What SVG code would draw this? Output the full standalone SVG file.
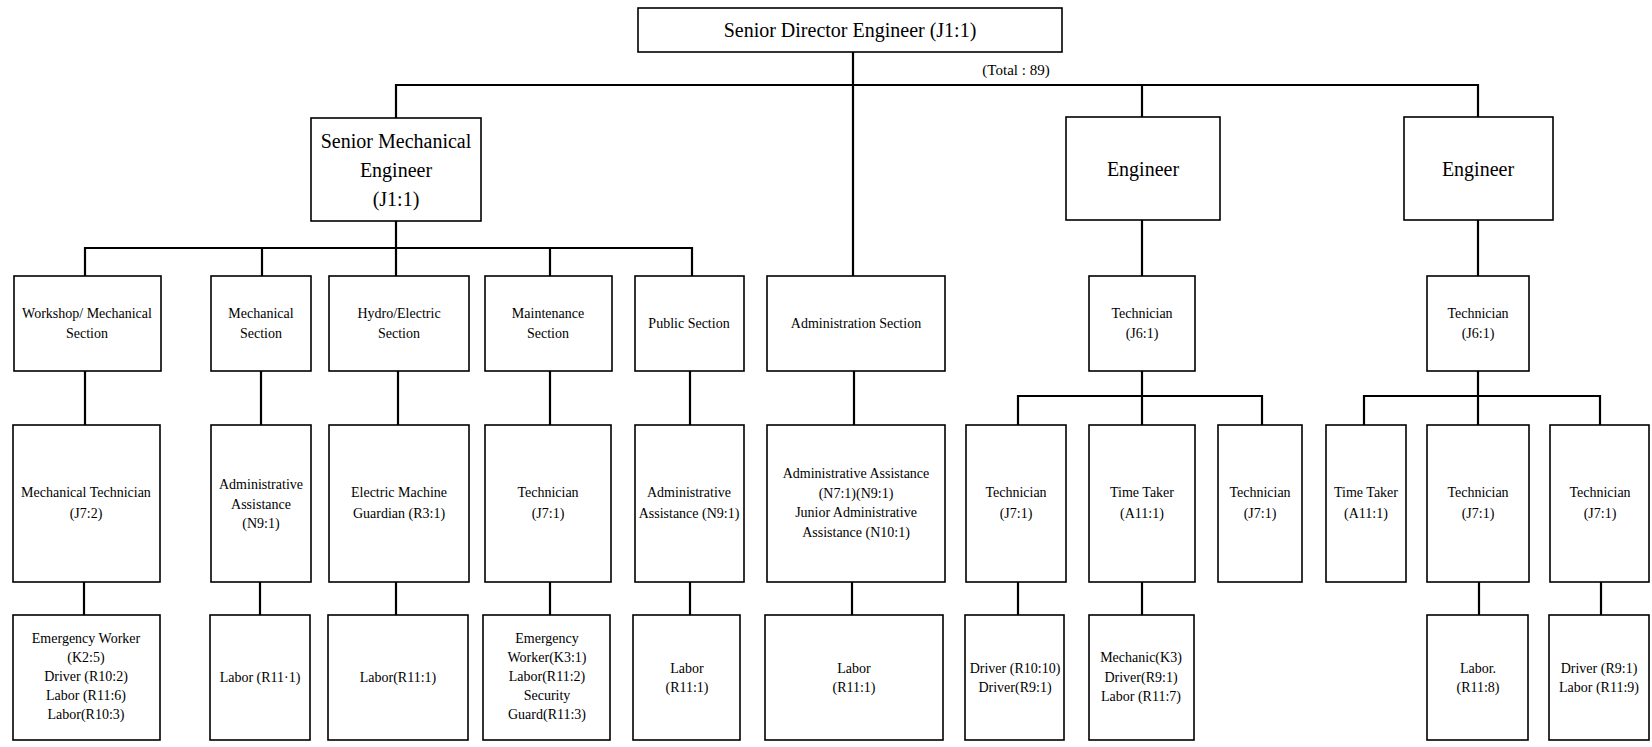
<svg xmlns="http://www.w3.org/2000/svg" width="1652" height="747" viewBox="0 0 1652 747">
<style>
rect{fill:#fff;stroke:#000;stroke-width:1.6}
.c line{stroke:#000;stroke-width:2.2}
text{font-family:"Liberation Serif","Times New Roman",serif;fill:#000;text-anchor:middle;dominant-baseline:central}
.s{font-size:14px}
.t{font-size:15px}
.b{font-size:20px}
</style>
<rect x="0" y="0" width="1652" height="747" style="fill:#fff;stroke:none"/>
<g class="c" id="connectors">
<line x1="853" y1="52" x2="853" y2="276"/>
<line x1="395" y1="85" x2="1479" y2="85"/>
<line x1="396" y1="84" x2="396" y2="118"/>
<line x1="1142" y1="84" x2="1142" y2="117"/>
<line x1="1478" y1="84" x2="1478" y2="117"/>
<line x1="396" y1="221" x2="396" y2="276"/>
<line x1="84" y1="248" x2="693" y2="248"/>
<line x1="85" y1="247" x2="85" y2="276"/>
<line x1="262" y1="247" x2="262" y2="276"/>
<line x1="550" y1="247" x2="550" y2="276"/>
<line x1="692" y1="247" x2="692" y2="276"/>
<line x1="1142" y1="220" x2="1142" y2="276"/>
<line x1="1478" y1="220" x2="1478" y2="276"/>
<line x1="85" y1="371" x2="85" y2="425"/>
<line x1="261" y1="371" x2="261" y2="425"/>
<line x1="398" y1="371" x2="398" y2="425"/>
<line x1="550" y1="371" x2="550" y2="425"/>
<line x1="690" y1="371" x2="690" y2="425"/>
<line x1="854" y1="371" x2="854" y2="425"/>
<line x1="1142" y1="371" x2="1142" y2="425"/>
<line x1="1017" y1="396" x2="1263" y2="396"/>
<line x1="1018" y1="395" x2="1018" y2="425"/>
<line x1="1262" y1="395" x2="1262" y2="425"/>
<line x1="1478" y1="371" x2="1478" y2="425"/>
<line x1="1363" y1="396" x2="1601" y2="396"/>
<line x1="1364" y1="395" x2="1364" y2="425"/>
<line x1="1600" y1="395" x2="1600" y2="425"/>
<line x1="84" y1="582" x2="84" y2="615"/>
<line x1="260" y1="582" x2="260" y2="615"/>
<line x1="396" y1="582" x2="396" y2="615"/>
<line x1="550" y1="582" x2="550" y2="615"/>
<line x1="690" y1="582" x2="690" y2="615"/>
<line x1="852" y1="582" x2="852" y2="615"/>
<line x1="1018" y1="582" x2="1018" y2="615"/>
<line x1="1142" y1="582" x2="1142" y2="615"/>
<line x1="1479" y1="582" x2="1479" y2="615"/>
<line x1="1601" y1="582" x2="1601" y2="615"/>
</g>
<text class="t" x="1016" y="70">(Total : 89)</text>

<g id="n-sde"><rect x="638" y="8" width="424" height="44"/><text class="b" x="850" y="30">Senior Director Engineer (J1:1)</text></g>

<g id="n-sme"><rect x="311" y="118" width="170" height="103"/><text class="b" x="396" y="141">Senior Mechanical</text><text class="b" x="396" y="170">Engineer</text><text class="b" x="396" y="199">(J1:1)</text></g>
<g id="n-eng1"><rect x="1066" y="117" width="154" height="103"/><text class="b" x="1143" y="169">Engineer</text></g>
<g id="n-eng2"><rect x="1404" y="117" width="149" height="103"/><text class="b" x="1478" y="169">Engineer</text></g>

<g id="n-workshop"><rect x="14" y="276" width="147" height="95"/><text class="s" x="87" y="313.5">Workshop/ Mechanical</text><text class="s" x="87" y="333.5">Section</text></g>
<g id="n-mechsec"><rect x="211" y="276" width="100" height="95"/><text class="s" x="261" y="313.5">Mechanical</text><text class="s" x="261" y="333.5">Section</text></g>
<g id="n-hydro"><rect x="329" y="276" width="140" height="95"/><text class="s" x="399" y="313.5">Hydro/Electric</text><text class="s" x="399" y="333.5">Section</text></g>
<g id="n-maint"><rect x="485" y="276" width="127" height="95"/><text class="s" x="548" y="313.5">Maintenance</text><text class="s" x="548" y="333.5">Section</text></g>
<g id="n-public"><rect x="635" y="276" width="109" height="95"/><text class="s" x="689" y="323.5">Public Section</text></g>
<g id="n-admin"><rect x="767" y="276" width="178" height="95"/><text class="s" x="856" y="323.5">Administration  Section</text></g>
<g id="n-tech-e1"><rect x="1089" y="276" width="106" height="95"/><text class="s" x="1142" y="313.5">Technician</text><text class="s" x="1142" y="333.5">(J6:1)</text></g>
<g id="n-tech-e2"><rect x="1427" y="276" width="102" height="95"/><text class="s" x="1478" y="313.5">Technician</text><text class="s" x="1478" y="333.5">(J6:1)</text></g>

<g id="n-mechtech"><rect x="13" y="425" width="147" height="157"/><text class="s" x="86" y="492.5">Mechanical Technician</text><text class="s" x="86" y="513">(J7:2)</text></g>
<g id="n-adm-mech"><rect x="211" y="425" width="100" height="157"/><text class="s" x="261" y="484.5">Administrative</text><text class="s" x="261" y="504">Assistance</text><text class="s" x="261" y="523.5">(N9:1)</text></g>
<g id="n-elec"><rect x="329" y="425" width="140" height="157"/><text class="s" x="399" y="492.5">Electric Machine</text><text class="s" x="399" y="513">Guardian (R3:1)</text></g>
<g id="n-tech-maint"><rect x="485" y="425" width="126" height="157"/><text class="s" x="548" y="492.5">Technician</text><text class="s" x="548" y="513">(J7:1)</text></g>
<g id="n-adm-pub"><rect x="635" y="425" width="109" height="157"/><text class="s" x="689" y="492.5">Administrative</text><text class="s" x="689" y="513">Assistance (N9:1)</text></g>
<g id="n-adm-adm"><rect x="767" y="425" width="178" height="157"/><text class="s" x="856" y="473.5">Administrative Assistance</text><text class="s" x="856" y="493">(N7:1)(N9:1)</text><text class="s" x="856" y="512.5">Junior Administrative</text><text class="s" x="856" y="532">Assistance (N10:1)</text></g>
<g id="n-tech-e1a"><rect x="966" y="425" width="100" height="157"/><text class="s" x="1016" y="492.5">Technician</text><text class="s" x="1016" y="513">(J7:1)</text></g>
<g id="n-tt-e1"><rect x="1089" y="425" width="106" height="157"/><text class="s" x="1142" y="492.5">Time Taker</text><text class="s" x="1142" y="513">(A11:1)</text></g>
<g id="n-tech-e1c"><rect x="1218" y="425" width="84" height="157"/><text class="s" x="1260" y="492.5">Technician</text><text class="s" x="1260" y="513">(J7:1)</text></g>
<g id="n-tt-e2"><rect x="1326" y="425" width="80" height="157"/><text class="s" x="1366" y="492.5">Time Taker</text><text class="s" x="1366" y="513">(A11:1)</text></g>
<g id="n-tech-e2b"><rect x="1427" y="425" width="102" height="157"/><text class="s" x="1478" y="492.5">Technician</text><text class="s" x="1478" y="513">(J7:1)</text></g>
<g id="n-tech-e2c"><rect x="1550" y="425" width="99" height="157"/><text class="s" x="1600" y="492.5">Technician</text><text class="s" x="1600" y="513">(J7:1)</text></g>

<g id="n-emerg1"><rect x="13" y="615" width="147" height="125"/><text class="s" x="86" y="638">Emergency Worker</text><text class="s" x="86" y="657">(K2:5)</text><text class="s" x="86" y="676">Driver (R10:2)</text><text class="s" x="86" y="695">Labor (R11:6)</text><text class="s" x="86" y="714">Labor(R10:3)</text></g>
<g id="n-labor-mech"><rect x="210" y="615" width="100" height="125"/><text class="s" x="260" y="677">Labor (R11·1)</text></g>
<g id="n-labor-hydro"><rect x="328" y="615" width="140" height="125"/><text class="s" x="398" y="677">Labor(R11:1)</text></g>
<g id="n-emerg2"><rect x="483" y="615" width="127" height="125"/><text class="s" x="547" y="638">Emergency</text><text class="s" x="547" y="657">Worker(K3:1)</text><text class="s" x="547" y="676">Labor(R11:2)</text><text class="s" x="547" y="695">Security</text><text class="s" x="547" y="714">Guard(R11:3)</text></g>
<g id="n-labor-pub"><rect x="633" y="615" width="107" height="125"/><text class="s" x="687" y="668">Labor</text><text class="s" x="687" y="687">(R11:1)</text></g>
<g id="n-labor-adm"><rect x="765" y="615" width="178" height="125"/><text class="s" x="854" y="668">Labor</text><text class="s" x="854" y="687">(R11:1)</text></g>
<g id="n-driver-e1"><rect x="965" y="615" width="99" height="125"/><text class="s" x="1015" y="668">Driver (R10:10)</text><text class="s" x="1015" y="687">Driver(R9:1)</text></g>
<g id="n-mechanic"><rect x="1089" y="615" width="105" height="125"/><text class="s" x="1141" y="657.5">Mechanic(K3)</text><text class="s" x="1141" y="677">Driver(R9:1)</text><text class="s" x="1141" y="696.5">Labor (R11:7)</text></g>
<g id="n-labor-e2"><rect x="1427" y="615" width="101" height="125"/><text class="s" x="1478" y="668">Labor.</text><text class="s" x="1478" y="687">(R11:8)</text></g>
<g id="n-driver-e2"><rect x="1549" y="615" width="100" height="125"/><text class="s" x="1599" y="668">Driver  (R9:1)</text><text class="s" x="1599" y="687">Labor (R11:9)</text></g>
</svg>
